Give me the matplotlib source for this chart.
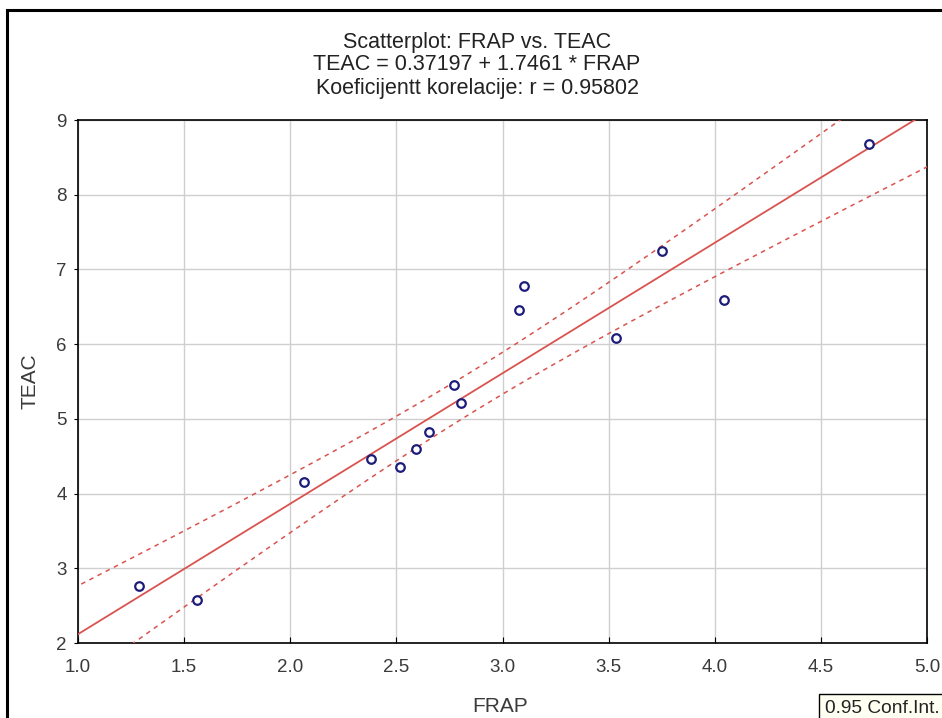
import numpy as np
import matplotlib
matplotlib.use("Agg")
import matplotlib.pyplot as plt
from matplotlib.patches import Rectangle

plt.rcParams['font.family'] = ['Liberation Sans', 'DejaVu Sans']

# Measured antioxidant capacity values
frap = [1.286, 1.561, 2.065, 2.380, 2.516, 2.592, 2.655, 2.770, 2.804,
        3.076, 3.103, 3.536, 3.750, 4.042, 4.728]
teac = [2.76, 2.58, 4.15, 4.46, 4.355, 4.60, 4.824, 5.457, 5.212,
        6.453, 6.78, 6.086, 7.25, 6.59, 8.675]

intercept = 0.37197
slope = 1.7461
r_value = 0.95802
t_crit = 2.1604  # t(0.975, df=13)

x_ticks = [1.0, 1.5, 2.0, 2.5, 3.0, 3.5, 4.0, 4.5, 5.0]
y_ticks = [2, 3, 4, 5, 6, 7, 8, 9]

W, H = 942, 718
fig = plt.figure(figsize=(W / 100, H / 100), dpi=100)
ax_l, ax_r, ax_t, ax_b = 78, 927, 120, 643
ax = fig.add_axes([ax_l / W, 1 - ax_b / H, (ax_r - ax_l) / W, (ax_b - ax_t) / H])

x = np.array(frap)
y = np.array(teac)
n = len(x)
resid = y - (intercept + slope * x)
s = np.sqrt(np.sum(resid**2) / (n - 2))
sxx = np.sum((x - x.mean())**2)

xs = np.linspace(0.9, 5.1, 300)
fit = intercept + slope * xs
half = t_crit * s * np.sqrt(1.0 / n + (xs - x.mean())**2 / sxx)

line_col = '#d9534f'
ax.plot(xs, fit, color=line_col, lw=1.3, zorder=3)
ax.plot(xs, fit + half, color=line_col, lw=1.1, ls=(0, (3, 3)), zorder=3)
ax.plot(xs, fit - half, color=line_col, lw=1.1, ls=(0, (3, 3)), zorder=3)

ax.scatter(x, y, s=38, facecolors='white', edgecolors='#1c1c7a',
           linewidths=1.6, zorder=4)

ax.set_xlim(1.0, 5.0)
ax.set_ylim(2, 9)
ax.set_xticks(x_ticks)
ax.set_xticklabels([f"{v:.1f}" for v in x_ticks])
ax.set_yticks(y_ticks)
ax.set_yticklabels([str(v) for v in y_ticks])
ax.grid(True, color='#cfcfcf', lw=1.0)
ax.set_axisbelow(True)
for sp in ax.spines.values():
    sp.set_color('black')
    sp.set_linewidth(1.2)
ax.tick_params(axis='x', direction='in', length=4, colors='black',
               labelcolor='#3a3a3a', labelsize=13.5, pad=11.5)
ax.tick_params(axis='y', direction='out', length=3, colors='black',
               labelcolor='#3a3a3a', labelsize=13.5, pad=5)

ax.set_xlabel('FRAP', fontsize=15, color='#3a3a3a')
ax.xaxis.label.set_va('baseline')
ax.xaxis.set_label_coords(0.5 - 2 / (ax_r - ax_l), -(712 - ax_b) / (ax_b - ax_t))
ax.set_ylabel('TEAC', fontsize=15, color='#3a3a3a')
ax.yaxis.label.set_va('center')
ax.yaxis.set_label_coords(-(ax_l - 30) / (ax_r - ax_l), 0.5)

cx = 477 / W
title_lines = ['Scatterplot: FRAP vs. TEAC',
               f'TEAC = {intercept} + {slope} * FRAP',
               f'Koeficijentt korelacije: r = {r_value}']
for txt, base in zip(title_lines, [48, 70, 94]):
    fig.text(cx, 1 - base / H, txt, ha='center', va='baseline',
             fontsize=15.5, color='#222222')

# outer frame
fig.patches.append(Rectangle((7 / W, -0.05), 1.0, 1.05 - 10 / H,
                             transform=fig.transFigure, fill=False,
                             edgecolor='black', lw=2.2))

fig.text(825 / W, 1 - 713 / H, '0.95 Conf.Int.', ha='left', va='baseline',
         fontsize=13.8, color='#222222',
         bbox=dict(boxstyle='square,pad=0.3', facecolor='#fffff2',
                   edgecolor='black', lw=1.0))

fig.savefig('out.png', dpi=100)
